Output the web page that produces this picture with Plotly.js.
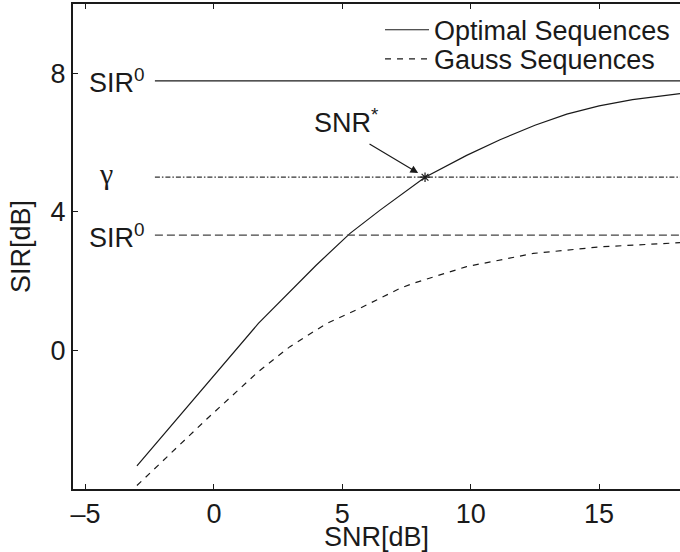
<!DOCTYPE html>
<html>
<head>
<meta charset="utf-8">
<script src="https://cdn.plot.ly/plotly-3.0.1.min.js"></script>
<style>html,body{margin:0;padding:0;background:#fff;overflow:hidden}</style>
</head>
<body>
<div id="chart" style="width:680px;height:552px"></div>
<script>
// ---- data ----
const optimalSNR = [-3.0, 1.73, 3.98, 5.30, 6.47, 7.24, 8.22, 9.84, 11.14, 12.5, 13.74, 15.0, 16.3, 18.15];
const optimalSIR = [-3.33, 0.78, 2.46, 3.38, 4.05, 4.48, 5.00, 5.63, 6.08, 6.50, 6.82, 7.06, 7.24, 7.41];
const gaussSNR = [-3.0, -0.28, 1.73, 2.96, 4.39, 5.69, 7.24, 7.77, 9.84, 12.44, 15.04, 18.15];
const gaussSIR = [-3.9, -1.98, -0.61, 0.11, 0.78, 1.22, 1.79, 1.94, 2.42, 2.80, 2.99, 3.11];
const levelSNR = [-2.3, 18.5];          // extent of horizontal reference lines
const sir0Optimal = 7.78;
const sir0Gauss = 3.33;
const gammaLevel = 5.0;
const snrStar = 8.22;
const xTicks = [-5, 0, 5, 10, 15];
const xTickText = ['\u20135', '0', '5', '10', '15'];
const yTicks = [0, 4, 8];
const seriesNames = ['Optimal Sequences', 'Gauss Sequences'];

const ink = '#1a1a1a';
const font = {family: 'Liberation Sans, Arial, sans-serif', size: 27, color: ink};

const traces = [
  {x: optimalSNR, y: optimalSIR, mode: 'lines', name: seriesNames[0], legend: 'legend',
   line: {color: ink, width: 1.2}},
  {x: gaussSNR, y: gaussSIR, mode: 'lines', name: seriesNames[1], legend: 'legend2',
   line: {color: ink, width: 1.2, dash: '6px,6px'}},
  {x: levelSNR, y: [sir0Optimal, sir0Optimal], mode: 'lines', showlegend: false,
   line: {color: ink, width: 1.2}},
  {x: levelSNR, y: [sir0Gauss, sir0Gauss], mode: 'lines', showlegend: false,
   line: {color: '#444', width: 1.2, dash: '8px,4px'}},
  {x: levelSNR, y: [gammaLevel, gammaLevel], mode: 'lines', showlegend: false,
   line: {color: '#333', width: 1.2, dash: '5px,2px,1.5px,2px'}},
  {x: [snrStar], y: [gammaLevel], mode: 'markers', showlegend: false,
   marker: {symbol: 'asterisk-open', size: 8, color: ink, line: {color: ink, width: 1.2}}}
];

const legendBase = {xanchor: 'left', x: 0.5058, yanchor: 'middle', bgcolor: 'rgba(0,0,0,0)',
  font: {family: font.family, size: 27, color: ink}, itemwidth: 44};

const layout = {
  width: 680, height: 552,
  margin: {l: 73, r: 0, t: 4, b: 63},
  paper_bgcolor: '#fff', plot_bgcolor: '#fff',
  font: font,
  showlegend: true,
  legend: Object.assign({}, legendBase, {y: 0.946}),
  legend2: Object.assign({}, legendBase, {y: 0.886}),
  xaxis: {range: [-5.49, 18.15], tickvals: xTicks, ticktext: xTickText,
          ticks: 'inside', ticklen: 5, tickwidth: 1, tickcolor: ink,
          showline: true, linewidth: 2, linecolor: ink, mirror: 'ticks',
          showgrid: false, zeroline: false, tickfont: font,
          title: {text: 'SNR[dB]', font: font, standoff: 0}},
  yaxis: {range: [-4, 10], tickvals: yTicks,
          ticks: 'inside', ticklen: 5, tickwidth: 1, tickcolor: ink,
          showline: true, linewidth: 2, linecolor: ink, mirror: false,
          showgrid: false, zeroline: false, tickfont: font,
          title: {text: 'SIR[dB]', font: font, standoff: 12}},
  annotations: [
    {x: -4.95, y: sir0Optimal, xanchor: 'left', yanchor: 'middle', showarrow: false,
     text: 'SIR<sup>0</sup>', font: font, yshift: 0},
    {x: -4.95, y: sir0Gauss, xanchor: 'left', yanchor: 'middle', showarrow: false,
     text: 'SIR<sup>0</sup>', font: font, yshift: -1},
    {x: -4.21, y: gammaLevel, xanchor: 'center', yanchor: 'middle', showarrow: false,
     text: '\u03b3', font: {family: 'Liberation Serif, Times New Roman, serif', size: 30, color: ink}, yshift: 4},
    {x: 5.18, y: 6.58, xanchor: 'center', yanchor: 'middle', showarrow: false,
     text: 'SNR<sup>*</sup>', font: font, yshift: 1},
    {x: snrStar, y: gammaLevel, text: '', showarrow: true, ax: -57, ay: -34,
     arrowhead: 2, arrowsize: 1.3, arrowwidth: 1.2, arrowcolor: ink, standoff: 8}
  ]
};

Plotly.newPlot('chart', traces, layout, {staticPlot: true, displayModeBar: false});
</script>
</body>
</html>
